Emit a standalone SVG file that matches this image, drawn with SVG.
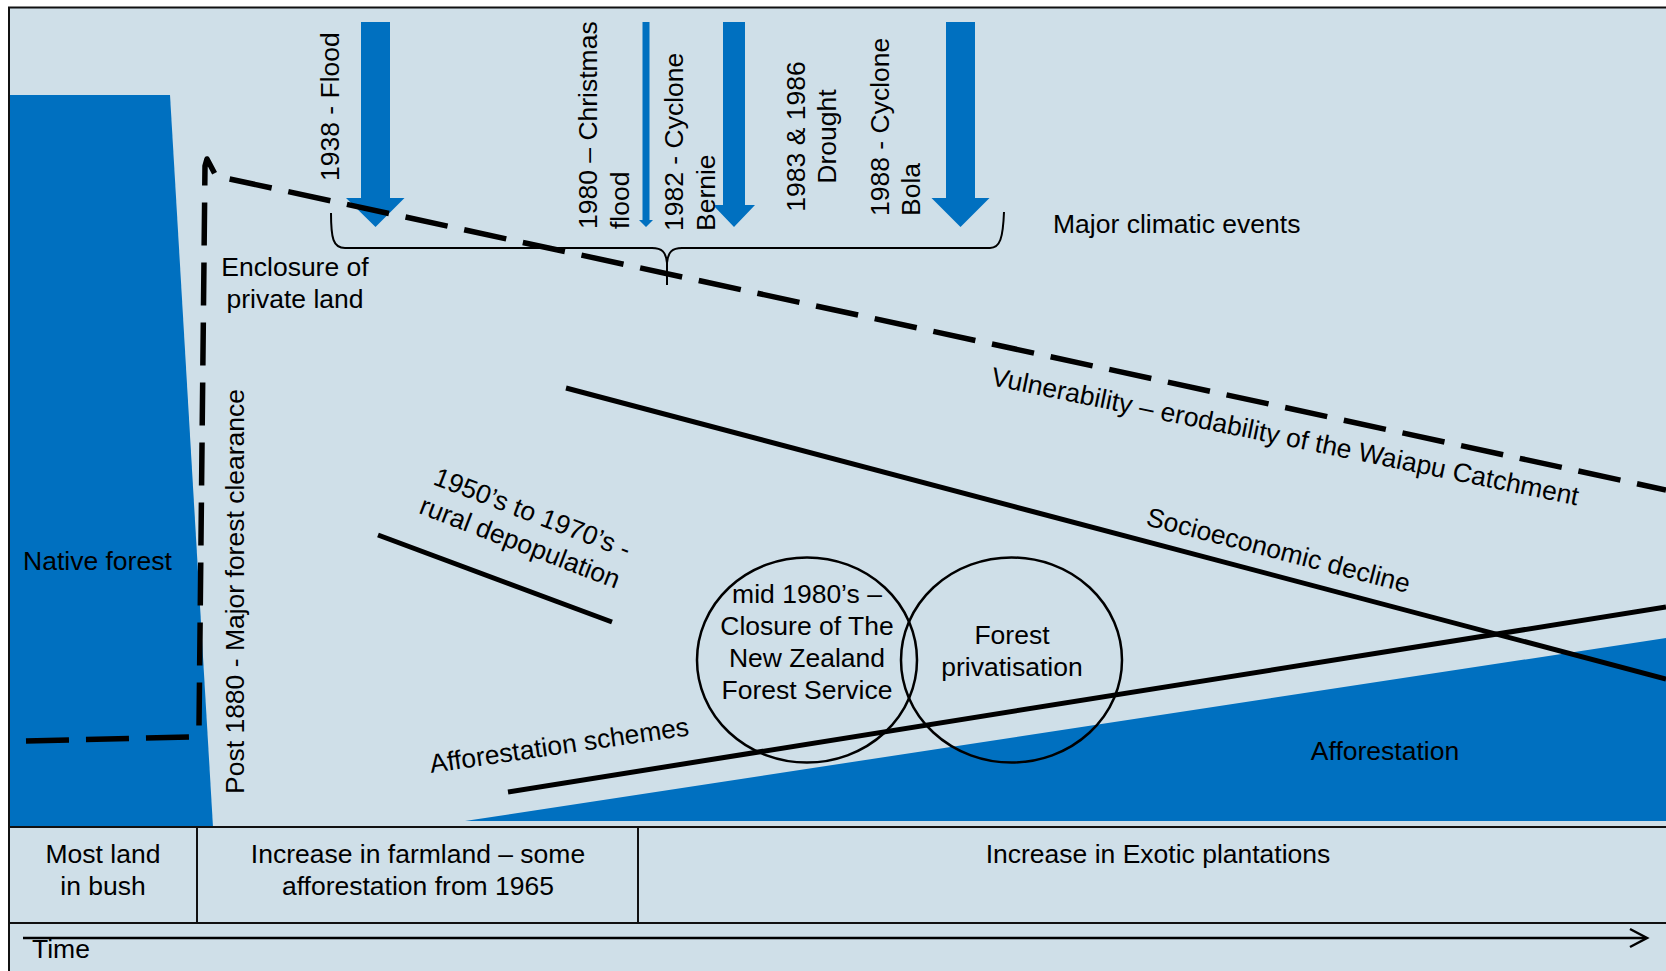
<svg xmlns="http://www.w3.org/2000/svg" width="1666" height="971" viewBox="0 0 1666 971">
<style>
text{font-family:"Liberation Sans",Arial,sans-serif;font-size:26.5px;fill:#000}
.mid{text-anchor:middle}
.blue{fill:#0070C0}
.rule{stroke:#111;stroke-width:2;fill:none}
.solid{stroke:#000;stroke-width:5;fill:none}
.dash{stroke:#000;stroke-width:5.5;fill:none;stroke-dasharray:43 17;stroke-linejoin:round}
.ring{stroke:#000;stroke-width:2.5;fill:none}
.brace{stroke:#000;stroke-width:2;fill:none}
</style>
<rect x="0" y="0" width="1666" height="971" fill="#ffffff"/>
<rect x="9" y="8" width="1657" height="963" fill="#CFDFE8"/>

<g id="native-forest">
<polygon class="blue" points="9,95 170,95 213,827 9,827"/>
<text x="23" y="570">Native forest</text>
</g>

<g id="afforestation">
<polygon class="blue" points="465,821 1666,638 1666,821"/>
<text class="mid" x="1385" y="760">Afforestation</text>
</g>

<g id="event-1938">
<polygon class="blue" points="361,22 390,22 390,198 404.5,198 375.5,227 346,198 361,198"/>
<text transform="translate(339,181) rotate(-90)">1938 - Flood</text>
</g>
<g id="event-1980">
<polygon class="blue" points="642.5,22 649.5,22 649.5,220 653,220 646,227 639,220 642.5,220"/>
<text transform="translate(597,229) rotate(-90)"><tspan x="0" y="0">1980 – Christmas</tspan><tspan x="0" y="32">flood</tspan></text>
</g>
<g id="event-1982">
<polygon class="blue" points="723,22 745,22 745,205 755,205 734,227 713,205 723,205"/>
<text transform="translate(683,231) rotate(-90)"><tspan x="0" y="0">1982 - Cyclone</tspan><tspan x="0" y="32">Bernie</tspan></text>
</g>
<g id="event-1983">
<text class="mid" transform="translate(805,136.5) rotate(-90)"><tspan x="0" y="0">1983 &amp; 1986</tspan><tspan x="0" y="31">Drought</tspan></text>
</g>
<g id="event-1988">
<polygon class="blue" points="946,22 975,22 975,198 989.5,198 960.5,227 931.5,198 946,198"/>
<text transform="translate(889,216) rotate(-90)"><tspan x="0" y="0">1988 - Cyclone</tspan><tspan x="0" y="31">Bola</tspan></text>
</g>

<g id="connectors">
<path class="brace" d="M331,213 C331,238 333,248 345,248 L652,248 C662,248 666,252 667,263 C668,252 672,248 682,248 L990,248 C1000,248 1003,238 1004,212"/>
<path class="brace" d="M667,263 L667,285"/>
<path class="dash" d="M26,741 L190,737 Q198,736 199,727 L205,166 L207,159 L216,176 L1666,490"/>
<line class="solid" x1="378" y1="535" x2="612" y2="622"/>
<line class="solid" x1="566" y1="388" x2="1666" y2="679"/>
<line class="solid" x1="508" y1="792" x2="1666" y2="607"/>
</g>

<g id="climatic-events-label">
<text x="1053" y="233">Major climatic events</text>
</g>
<g id="enclosure">
<text class="mid" x="295" y="276">Enclosure of</text>
<text class="mid" x="295" y="308">private land</text>
</g>
<g id="clearance">
<text transform="translate(244,794) rotate(-90)">Post 1880 - Major forest clearance</text>
</g>
<g id="vulnerability">
<text transform="translate(990,385) rotate(11.6)">Vulnerability – erodability of the Waiapu Catchment</text>
</g>
<g id="socioeconomic">
<text transform="translate(1145,525) rotate(14.5)">Socioeconomic decline</text>
</g>
<g id="depopulation">
<text transform="translate(432,484) rotate(21)"><tspan x="0" y="0">1950’s to 1970’s -</tspan><tspan x="-3" y="32">rural depopulation</tspan></text>
</g>
<g id="afforestation-schemes">
<text transform="translate(431,773) rotate(-8.3)">Afforestation schemes</text>
</g>

<g id="closure">
<ellipse class="ring" cx="807" cy="660" rx="110" ry="102.5"/>
<text class="mid" x="807" y="603">mid 1980’s –</text>
<text class="mid" x="807" y="635">Closure of The</text>
<text class="mid" x="807" y="667">New Zealand</text>
<text class="mid" x="807" y="699">Forest Service</text>
</g>
<g id="privatisation">
<ellipse class="ring" cx="1011.5" cy="660" rx="110.5" ry="102.5"/>
<text class="mid" x="1012" y="644">Forest</text>
<text class="mid" x="1012" y="676">privatisation</text>
</g>

<g id="table">
<line class="rule" x1="8" y1="7.5" x2="1666" y2="7.5"/>
<line class="rule" x1="9" y1="7" x2="9" y2="971"/>
<line class="rule" x1="9" y1="827" x2="1666" y2="827"/>
<line class="rule" x1="9" y1="923" x2="1666" y2="923"/>
<line class="rule" x1="197" y1="827" x2="197" y2="923"/>
<line class="rule" x1="638" y1="827" x2="638" y2="923"/>
<text class="mid" x="103" y="863">Most land</text>
<text class="mid" x="103" y="895">in bush</text>
<text class="mid" x="418" y="863">Increase in farmland – some</text>
<text class="mid" x="418" y="895">afforestation from 1965</text>
<text class="mid" x="1158" y="863">Increase in Exotic plantations</text>
</g>

<g id="time-axis">
<line x1="23" y1="938" x2="1646" y2="938" stroke="#000" stroke-width="2.5"/>
<polyline points="1630,929 1647,938 1630,947" fill="none" stroke="#000" stroke-width="2.5"/>
<text x="32" y="958">Time</text>
</g>
</svg>
